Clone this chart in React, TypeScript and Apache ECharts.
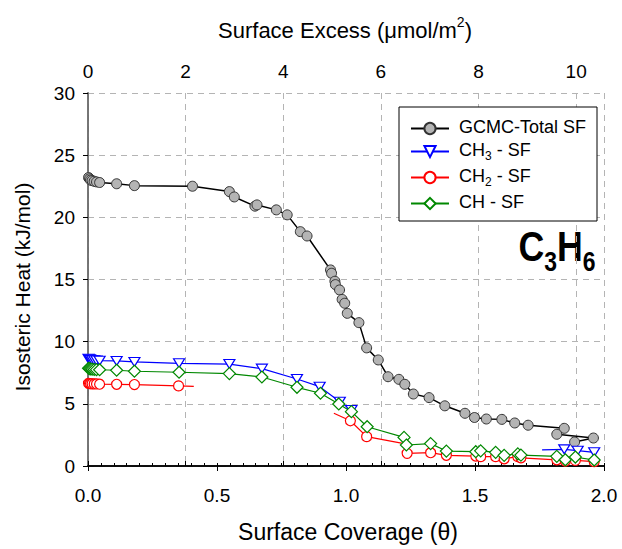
import React, { useEffect, useRef } from "react";
import * as echarts from "echarts";

// ---- data ----
// GCMC-Total SF
const totalTheta = [0.002, 0.006, 0.01, 0.016, 0.024, 0.033, 0.045, 0.111, 0.18, 0.405, 0.548, 0.567, 0.647, 0.655, 0.73, 0.772, 0.823, 0.849, 0.94, 0.944, 0.957, 0.959, 0.975, 0.985, 0.995, 1.005, 1.05, 1.08, 1.125, 1.163, 1.205, 1.228, 1.261, 1.322, 1.383, 1.461, 1.498, 1.544, 1.604, 1.654, 1.706, 1.846, 1.817, 1.959, 1.886];
const totalHeat = [23.2, 23.1, 23.0, 22.95, 22.9, 22.85, 22.8, 22.7, 22.55, 22.5, 22.07, 21.64, 20.9, 21.0, 20.6, 20.2, 18.85, 18.5, 15.77, 15.5, 14.86, 14.59, 14.16, 13.4, 13.09, 12.28, 11.53, 9.5, 8.53, 7.18, 6.97, 6.57, 5.79, 5.5, 4.84, 4.24, 3.9, 3.78, 3.75, 3.46, 3.28, 3.03, 2.55, 2.25, 1.93];

// CH3 - SF (null = gap in the drawn line)
const ch3Theta = [0.002, 0.006, 0.01, 0.016, 0.024, 0.033, 0.045, 0.111, 0.18, 0.353, 0.548, 0.674, 0.81, 0.898, 0.976, 1.021, 1.4, 1.76, 1.846, 1.898, 1.962];
const ch3Heat = [8.62, 8.58, 8.55, 8.52, 8.5, 8.48, 8.47, 8.45, 8.37, 8.26, 8.2, 7.83, 7.0, 6.38, 5.17, 4.5, null, 1.3, 1.34, 1.23, 1.1];
const ch3LineOnly = [17];

// CH2 - SF
const ch2Theta = [0.002, 0.006, 0.01, 0.016, 0.024, 0.033, 0.045, 0.111, 0.18, 0.351, 0.41, 0.7, 0.953, 1.017, 1.08, 1.225, 1.237, 1.328, 1.389, 1.503, 1.522, 1.58, 1.613, 1.666, 1.678, 1.817, 1.85, 1.889, 1.962];
const ch2Heat = [6.65, 6.63, 6.62, 6.61, 6.6, 6.6, 6.58, 6.57, 6.55, 6.44, 6.4, null, 4.24, 3.64, 2.36, 1.8, 1.02, 1.07, 0.86, 0.8, 0.75, 0.75, 0.58, 0.75, 0.66, 0.5, 0.38, 0.45, 0.35];
const ch2LineOnly = [10, 12, 15];

// CH - SF
const chTheta = [0.002, 0.006, 0.01, 0.016, 0.024, 0.033, 0.045, 0.111, 0.18, 0.353, 0.548, 0.674, 0.81, 0.901, 0.972, 1.021, 1.082, 1.225, 1.234, 1.328, 1.389, 1.503, 1.522, 1.58, 1.613, 1.666, 1.678, 1.817, 1.85, 1.889, 1.962];
const chHeat = [7.86, 7.82, 7.8, 7.78, 7.76, 7.75, 7.74, 7.7, 7.62, 7.54, 7.43, 7.16, 6.33, 5.85, 4.99, 4.37, 3.16, 2.3, 1.69, 1.8, 1.2, 1.15, 1.22, 1.1, 0.86, 0.97, 0.88, 0.78, 0.5, 0.72, 0.48];

const seriesNames = ["GCMC-Total SF", "CH3 - SF", "CH2 - SF", "CH - SF"];
const yTicks = [0, 5, 10, 15, 20, 25, 30];
const thetaTicks = [0, 0.5, 1.0, 1.5, 2.0];
const excessTicks = [0, 2, 4, 6, 8, 10];

const FONT = "'Liberation Sans', Arial, sans-serif";

function build(xs: number[], ys: (number | null)[], lineOnly: number[] = []) {
  return xs.map((x, i) => {
    const y = ys[i];
    if (y === null) return [x, "-"];
    if (lineOnly.includes(i)) return { value: [x, y], symbol: "none" };
    return [x, y];
  });
}

export default function App() {
  const ref = useRef<HTMLDivElement>(null);
  useEffect(() => {
    if (!ref.current) return;
    const chart = echarts.init(ref.current, null, { renderer: "svg" });
    const gridDash = { color: "#b4b4b4", type: [6, 5] as any, width: 1 };
    const option: any = {
      animation: false,
      backgroundColor: "#fff",
      grid: { left: 88, right: 18, top: 93, bottom: 83, containLabel: false },
      legend: {
        data: seriesNames,
        orient: "vertical",
        left: 399,
        top: 107,
        padding: [11, 11, 10, 11],
        borderColor: "#000",
        borderWidth: 1,
        backgroundColor: "#fff",
        itemWidth: 38,
        itemHeight: 14,
        itemGap: 5,
        formatter: (name: string) => {
          const m = name.match(/^CH(\d) - SF$/);
          if (m) return `{f|CH}{s|${m[1]}}{a| - SF}`;
          return `{f|${name}}`;
        },
        textStyle: {
          fontFamily: FONT,
          fontSize: 18,
          color: "#000",
          rich: {
            f: { fontFamily: FONT, fontSize: 18, color: "#000", verticalAlign: "bottom", padding: [0, 0, 3, 5] },
            a: { fontFamily: FONT, fontSize: 18, color: "#000", verticalAlign: "bottom", padding: [0, 0, 3, 0] },
            s: { fontFamily: FONT, fontSize: 12, color: "#000", verticalAlign: "bottom" },
          },
        },
      },
      xAxis: [
        {
          type: "value",
          position: "bottom",
          min: 0,
          max: 2,
          interval: 0.5,
          axisLine: { show: true, lineStyle: { color: "#000", width: 1.5 } },
          axisTick: { show: true, inside: false, length: 5, lineStyle: { color: "#000" } },
          axisLabel: {
            fontFamily: FONT,
            fontSize: 19,
            color: "#000",
            margin: 20,
            formatter: (v: number) => (thetaTicks.includes(v) ? v.toFixed(1) : ""),
          },
          splitLine: { show: false },
        },
        {
          type: "value",
          position: "top",
          min: 0,
          max: 10.57,
          interval: 2,
          axisLine: { show: true, lineStyle: { color: "#000", width: 1.5 } },
          axisTick: { show: true, inside: false, length: 5, lineStyle: { color: "#000" } },
          axisLabel: {
            fontFamily: FONT,
            fontSize: 19,
            color: "#000",
            margin: 12,
            showMaxLabel: false,
            formatter: (v: number) => (excessTicks.includes(v) ? String(v) : ""),
          },
          splitLine: { show: true, lineStyle: gridDash },
        },
        {
          type: "value",
          position: "bottom",
          min: 0,
          max: 2,
          interval: 0.05,
          axisLine: { show: false },
          axisTick: { show: true, inside: true, length: 3, lineStyle: { color: "#000" } },
          axisLabel: { show: false },
          splitLine: { show: false },
        },
      ],
      yAxis: [
        {
          type: "value",
          min: 0,
          max: 30,
          interval: 5,
          axisLine: { show: true, lineStyle: { color: "#000", width: 1.5 } },
          axisTick: { show: true, inside: false, length: 5, lineStyle: { color: "#000" } },
          axisLabel: {
            fontFamily: FONT,
            fontSize: 19,
            color: "#000",
            margin: 13,
            formatter: (v: number) => (yTicks.includes(v) ? String(v) : ""),
          },
          splitLine: { show: true, lineStyle: gridDash },
        },
        {
          type: "value",
          position: "right",
          min: 0,
          max: 30,
          interval: 5,
          axisLine: { show: true, lineStyle: { color: "#888", width: 1.5 } },
          axisTick: { show: false },
          axisLabel: { show: false },
          splitLine: { show: false },
        },
      ],
      series: [
        {
          name: seriesNames[0],
          type: "line",
          xAxisIndex: 0,
          yAxisIndex: 0,
          data: build(totalTheta, totalHeat),
          symbol: "circle",
          symbolSize: 10,
          lineStyle: { color: "#000", width: 1.5 },
          itemStyle: { color: "#b4b4b4", borderColor: "#333", borderWidth: 1 },
        },
        {
          name: seriesNames[1],
          type: "line",
          xAxisIndex: 0,
          yAxisIndex: 0,
          data: build(ch3Theta, ch3Heat, ch3LineOnly),
          connectNulls: false,
          symbol: "triangle",
          symbolRotate: 180,
          symbolSize: [11, 9],
          lineStyle: { color: "#0000ff", width: 1.2 },
          itemStyle: { color: "#fff", borderColor: "#0000ff", borderWidth: 1.2 },
        },
        {
          name: seriesNames[2],
          type: "line",
          xAxisIndex: 0,
          yAxisIndex: 0,
          data: build(ch2Theta, ch2Heat, ch2LineOnly),
          connectNulls: false,
          symbol: "circle",
          symbolSize: 10,
          lineStyle: { color: "#ff0000", width: 1.2 },
          itemStyle: { color: "#fff", borderColor: "#ff0000", borderWidth: 1.2 },
        },
        {
          name: seriesNames[3],
          type: "line",
          xAxisIndex: 0,
          yAxisIndex: 0,
          data: build(chTheta, chHeat),
          symbol: "diamond",
          symbolSize: 12,
          lineStyle: { color: "#008800", width: 1.2 },
          itemStyle: { color: "#fff", borderColor: "#008800", borderWidth: 1.2 },
        },
      ],
      graphic: [
        {
          type: "text",
          x: 22,
          y: 287,
          rotation: Math.PI / 2,
          style: {
            text: "Isosteric Heat (kJ/mol)",
            fontFamily: FONT,
            fontSize: 21,
            fill: "#000",
            textAlign: "center",
            textVerticalAlign: "middle",
          },
        },
        {
          type: "text",
          x: 348,
          y: 532,
          style: {
            text: "Surface Coverage (\u03b8)",
            fontFamily: FONT,
            fontSize: 23,
            fill: "#000",
            textAlign: "center",
            textVerticalAlign: "middle",
          },
        },
        {
          type: "text",
          x: 345,
          y: 28,
          style: {
            text: "{a|Surface Excess (\u03bcmol/m}{p|2}{a|)}",
            fontFamily: FONT,
            fontSize: 22,
            fill: "#000",
            textAlign: "center",
            textVerticalAlign: "middle",
            rich: {
              a: { fontFamily: FONT, fontSize: 22, fill: "#000", verticalAlign: "top", padding: [5, 0, 0, 0] },
              p: { fontFamily: FONT, fontSize: 14, fill: "#000", verticalAlign: "top" },
            },
          },
        },
        {
          type: "text",
          x: 557,
          y: 250,
          scaleX: 0.85,
          style: {
            text: "{c|C}{s|3}{c|H}{s|6}",
            fontFamily: FONT,
            fontWeight: "bold",
            fill: "#000",
            textAlign: "center",
            textVerticalAlign: "middle",
            rich: {
              c: { fontFamily: FONT, fontWeight: "bold", fontSize: 42, fill: "#000", verticalAlign: "bottom", padding: [0, 0, 8, 0] },
              s: { fontFamily: FONT, fontWeight: "bold", fontSize: 27, fill: "#000", verticalAlign: "bottom" },
            },
          },
        },
      ],
    };
    chart.setOption(option);
    return () => chart.dispose();
  }, []);
  return <div ref={ref} style={{ width: 622, height: 549, position: "absolute", left: 0, top: 0 }} />;
}
